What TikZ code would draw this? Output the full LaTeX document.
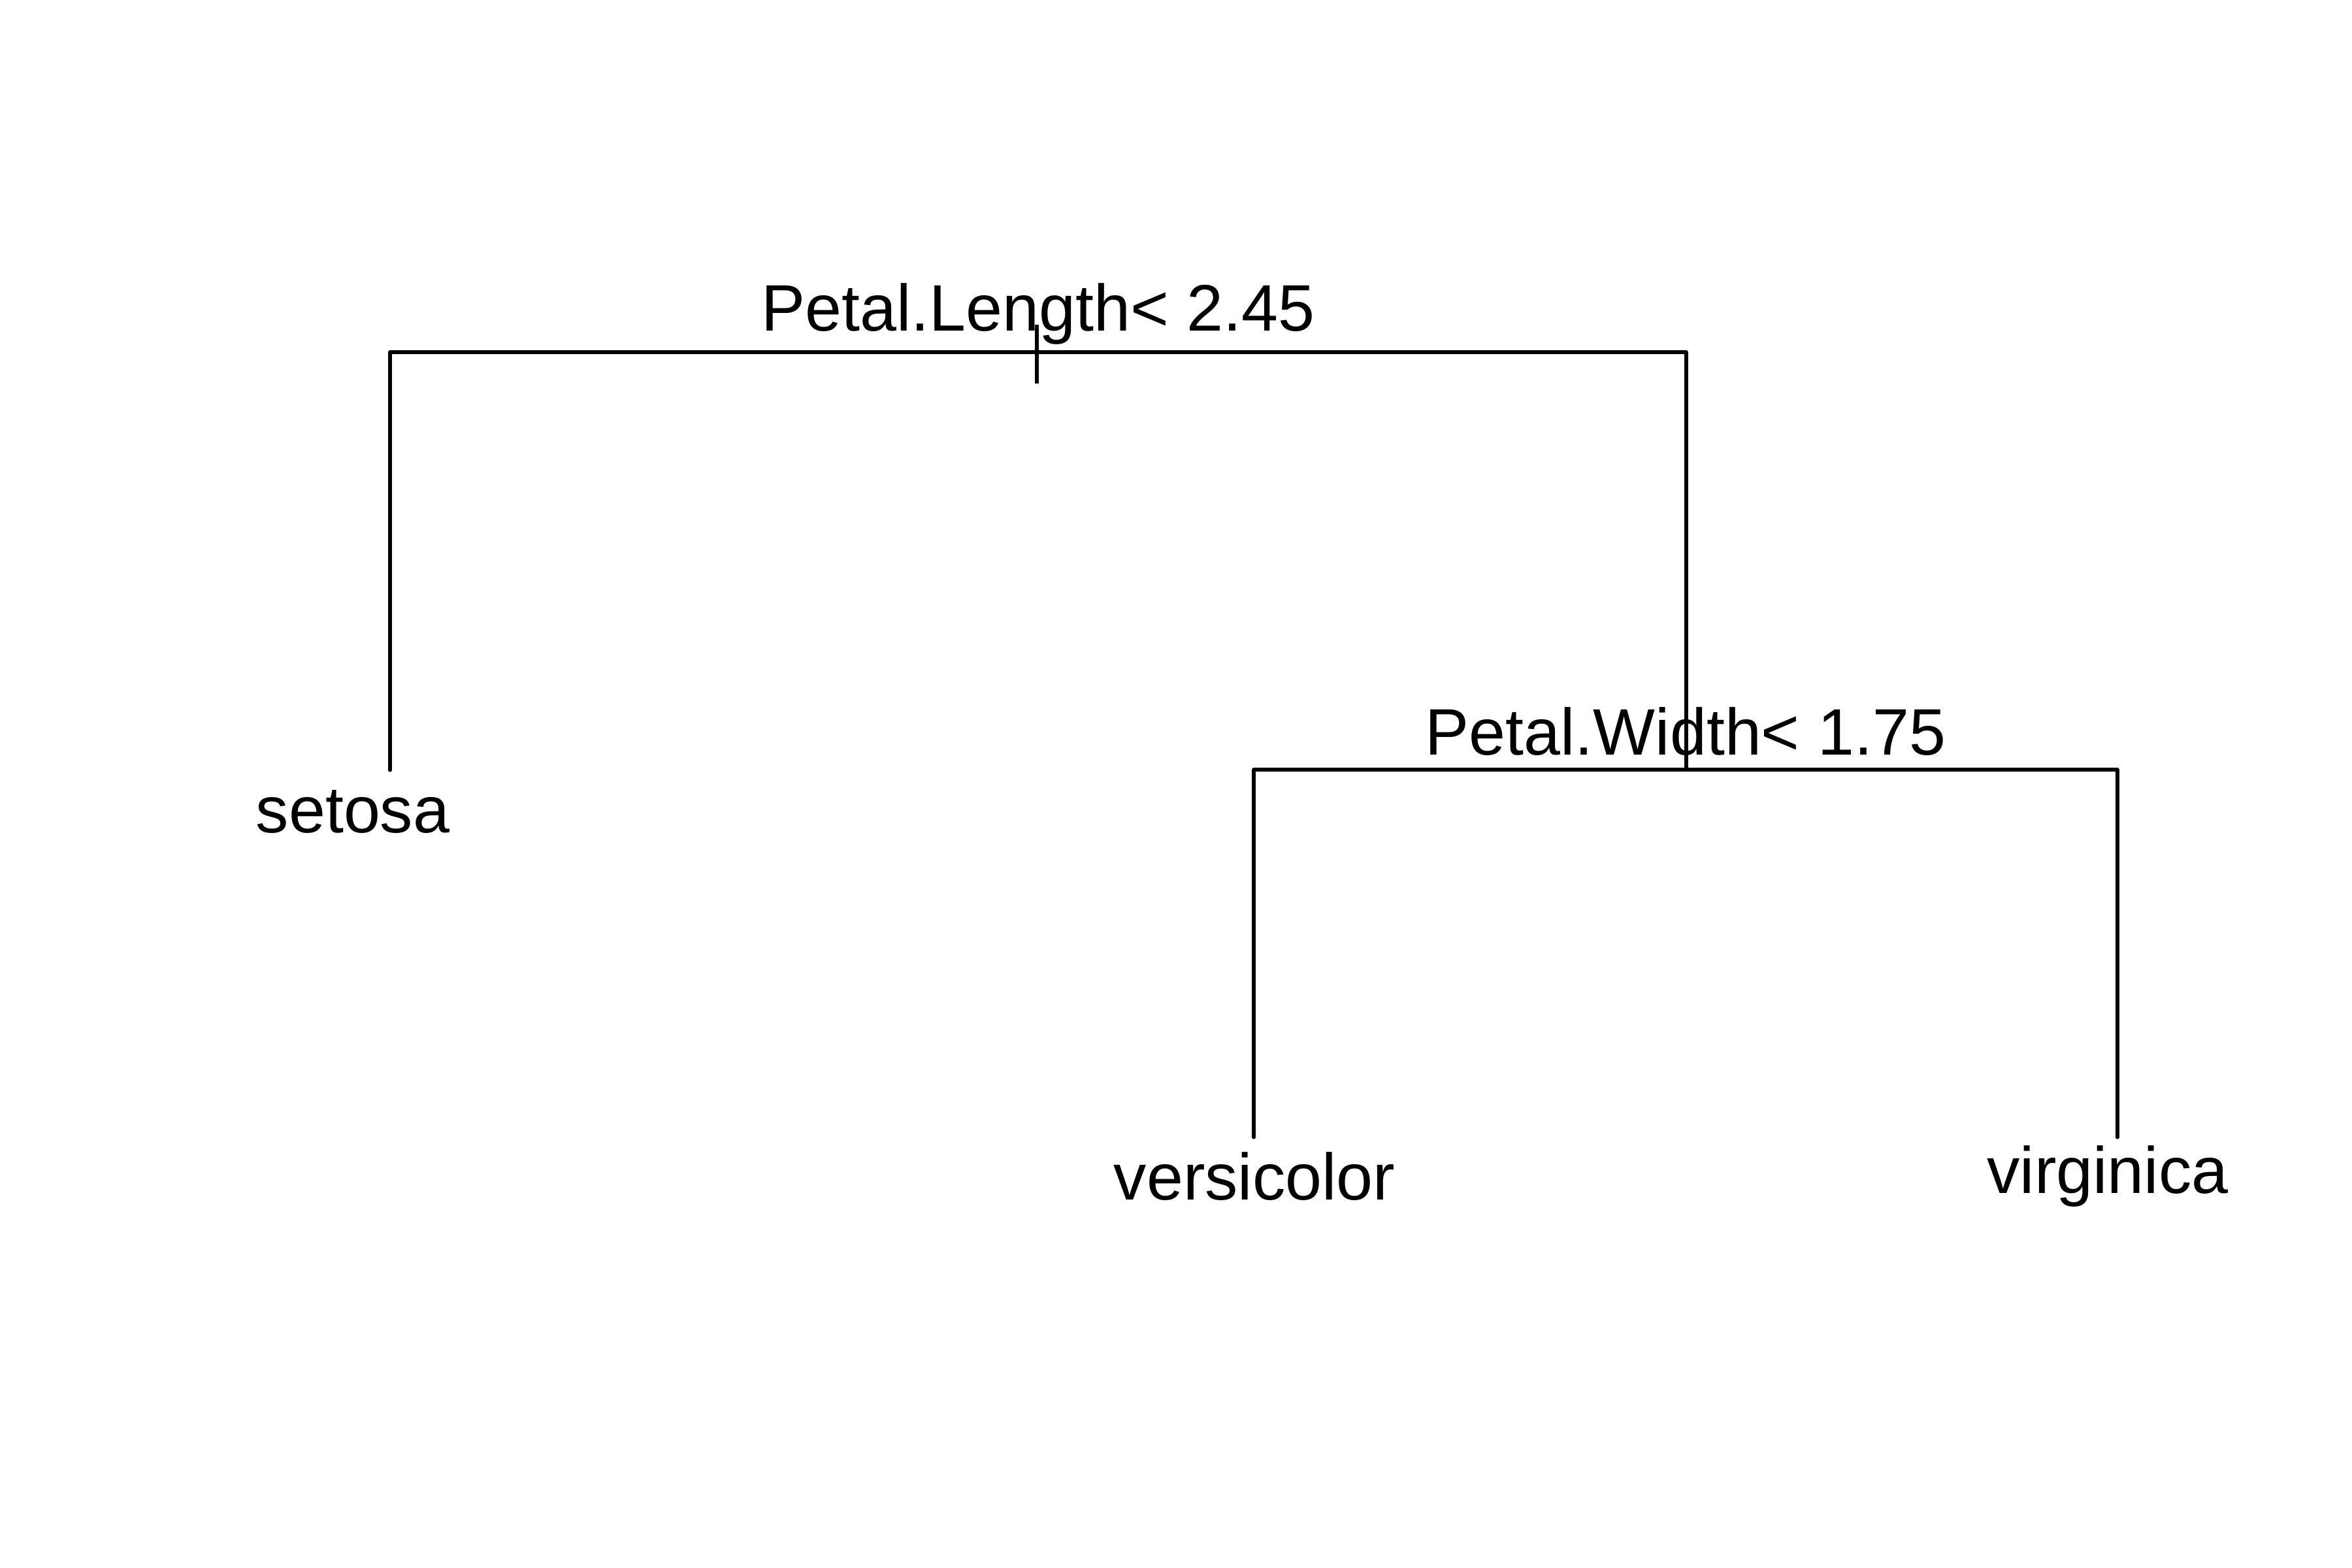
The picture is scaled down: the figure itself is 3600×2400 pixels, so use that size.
\documentclass[tikz,border=0pt]{standalone}
\usepackage{fontspec}
\setmainfont{Liberation Sans}
\begin{document}
\begin{tikzpicture}[x=0.01cm,y=-0.01cm,
  branch/.style={line width=1.45pt,line cap=round,line join=round,black},
  lab/.style={anchor=base,inner sep=0pt,font=\fontsize{28.6}{34}\selectfont}]
\useasboundingbox (0,0) rectangle (3600,2400);
\fill[white] (0,0) rectangle (3600,2400);
% tree points
\coordinate (root) at (1587,539);
\coordinate (setosaEnd) at (597,1179);
\coordinate (n2) at (2581,1178);
\coordinate (versiEnd) at (1919,1741);
\coordinate (virgEnd) at (3241,1741);
\coordinate (tickTop) at (1587,497);
\coordinate (tickBot) at (1587,587);
% connectors
\draw[branch] (setosaEnd) |- (root) -| (n2);
\draw[branch] (versiEnd) |- (n2) -| (virgEnd);
\draw[branch,line width=1.5pt,line cap=butt] (tickTop) -- (tickBot);
% labels
\node[lab] (l1) at (1589,506) {Petal.Length< 2.45};
\node[lab] (l2) at (2580,1155) {Petal.Width< 1.75};
\node[lab] (setosa) at (540,1274) {setosa};
\node[lab] (versicolor) at (1920,1836) {versicolor};
\node[lab] (virginica) at (3226,1826) {virginica};
\end{tikzpicture}
\end{document}
